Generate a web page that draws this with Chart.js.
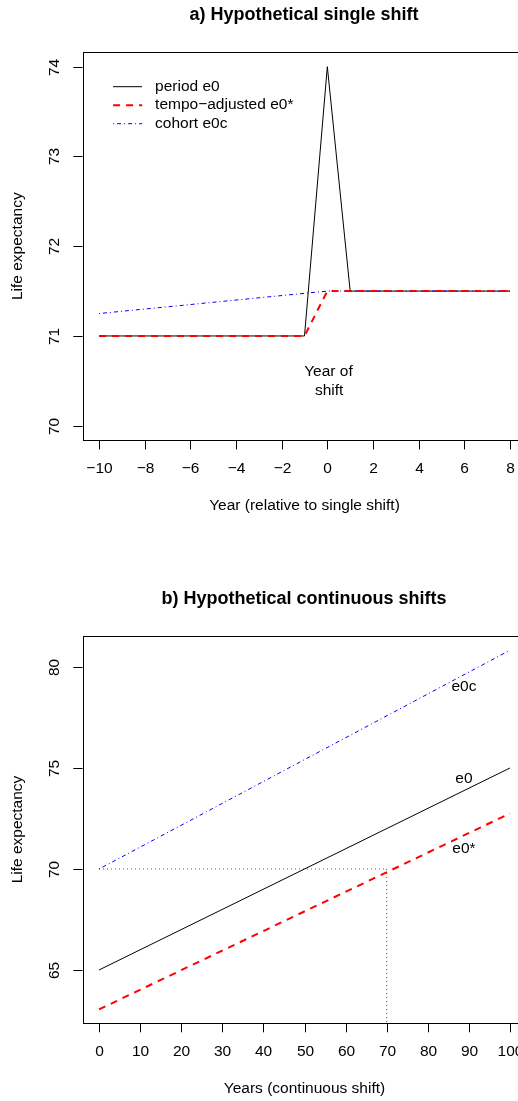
<!DOCTYPE html>
<html>
<head>
<meta charset="utf-8">
<script src="https://cdn.jsdelivr.net/npm/chart.js@4/dist/chart.umd.min.js"></script>
<style>
  html, body { margin: 0; padding: 0; background: #fff; overflow: hidden; width: 518px; height: 1101px; }
  canvas { position: absolute; left: 0; }
  #ca { top: 0; }
  #cb { top: 550px; }
</style>
</head>
<body>
<canvas id="ca" width="560" height="550"></canvas>
<canvas id="cb" width="560" height="551"></canvas>
<script>
// ---------- Panel a: hypothetical single shift ----------
const yearsA      = [-10, -9, -8, -7, -6, -5, -4, -3, -2, -1, 0, 1, 2, 3, 4, 5, 6, 7, 8];
const periodE0A   = [71, 71, 71, 71, 71, 71, 71, 71, 71, 71, 74, 71.5, 71.5, 71.5, 71.5, 71.5, 71.5, 71.5, 71.5];
const tempoE0A    = [71, 71, 71, 71, 71, 71, 71, 71, 71, 71, 71.5, 71.5, 71.5, 71.5, 71.5, 71.5, 71.5, 71.5, 71.5];
const cohortYearsA = [-10, 0, 8];
const cohortE0A    = [71.25, 71.5, 71.5];
const xTicksA      = [-10, -8, -6, -4, -2, 0, 2, 4, 6, 8];
const xTickLabelsA = ['\u221210', '\u22128', '\u22126', '\u22124', '\u22122', '0', '2', '4', '6', '8'];
const yTicksA      = [70, 71, 72, 73, 74];
const yTickLabelsA = ['70', '71', '72', '73', '74'];
const legendLabelsA = ['period e0', 'tempo\u2212adjusted e0*', 'cohort e0c'];

// ---------- Panel b: hypothetical continuous shifts ----------
const yearsB      = [0, 100];
const periodE0B   = [65, 75];
const tempoE0B    = [63.05, 72.75];
const cohortE0B   = [70, 80.83];
const guideH      = { x: [0, 70], y: [70, 70] };
const guideV      = { x: [70, 70], y: [70, 62.38] };
const xTicksB      = [0, 10, 20, 30, 40, 50, 60, 70, 80, 90, 100];
const xTickLabelsB = ['0', '10', '20', '30', '40', '50', '60', '70', '80', '90', '100'];
const yTicksB      = [65, 70, 75, 80];
const yTickLabelsB = ['65', '70', '75', '80'];

const FONT = '"Liberation Sans", Arial, Helvetica, sans-serif';
const BASE = 15.5;

function pts(xs, ys) { return xs.map((x, i) => ({ x: x, y: ys[i] })); }

const rAxes = {
  id: 'rAxes',
  afterDraw(chart, args, o) {
    const ctx = chart.ctx, a = chart.chartArea, xs = chart.scales.x, ys = chart.scales.y;
    ctx.save();
    ctx.strokeStyle = '#000';
    ctx.fillStyle = '#000';
    ctx.lineWidth = 1;
    ctx.setLineDash([]);
    // box
    ctx.strokeRect(Math.round(a.left) + 0.5, Math.round(a.top) + 0.5,
                   Math.round(a.right - a.left), Math.round(a.bottom - a.top));
    // x ticks
    ctx.font = BASE + 'px ' + FONT;
    ctx.textAlign = 'center';
    ctx.textBaseline = 'middle';
    o.xTicks.forEach((v, i) => {
      const px = Math.round(xs.getPixelForValue(v)) + 0.5;
      ctx.beginPath();
      ctx.moveTo(px, a.bottom);
      ctx.lineTo(px, a.bottom + 9.3);
      ctx.stroke();
      ctx.fillText(o.xLabels[i], px, a.bottom + 29);
    });
    // y ticks (labels parallel to axis)
    o.yTicks.forEach((v, i) => {
      const py = Math.round(ys.getPixelForValue(v)) + 0.5;
      ctx.beginPath();
      ctx.moveTo(a.left - 9.3, py);
      ctx.lineTo(a.left, py);
      ctx.stroke();
      ctx.save();
      ctx.translate(a.left - 27.5, py);
      ctx.rotate(-Math.PI / 2);
      ctx.fillText(o.yLabels[i], 0, 0);
      ctx.restore();
    });
    // axis titles
    ctx.fillText(o.xTitle, (a.left + a.right) / 2, a.bottom + 66);
    ctx.save();
    ctx.translate(a.left - 64.5, (a.top + a.bottom) / 2);
    ctx.rotate(-Math.PI / 2);
    ctx.fillText(o.yTitle, 0, 0);
    ctx.restore();
    // main title
    ctx.font = 'bold 18px ' + FONT;
    ctx.fillText(o.title, (a.left + a.right) / 2 - 0.5, a.top - 37);
    // text annotations
    ctx.font = BASE + 'px ' + FONT;
    (o.notes || []).forEach(n => {
      ctx.fillText(n.text, xs.getPixelForValue(n.x), ys.getPixelForValue(n.y));
    });
    // legend
    if (o.legend) {
      const L = o.legend;
      ctx.textAlign = 'left';
      chart.data.datasets.forEach((ds, i) => {
        if (ds.inLegend === false) return;
        const idx = ds.legendIndex;
        const y = a.top + L.top + idx * L.row;
        ctx.save();
        ctx.strokeStyle = ds.borderColor;
        ctx.lineWidth = ds.borderWidth;
        ctx.setLineDash(ds.borderDash || []);
        ctx.beginPath();
        ctx.moveTo(a.left + L.x0, y);
        ctx.lineTo(a.left + L.x1, y);
        ctx.stroke();
        ctx.restore();
        ctx.fillText(ds.label, a.left + L.tx, y);
      });
    }
    ctx.restore();
  }
};

function baseOptions(xmin, xmax, ymin, ymax, padding, axes) {
  return {
    responsive: false,
    animation: false,
    devicePixelRatio: window.devicePixelRatio || 1,
    layout: { padding: padding },
    elements: { point: { radius: 0, hoverRadius: 0 }, line: { tension: 0 } },
    scales: {
      x: { type: 'linear', min: xmin, max: xmax, display: false },
      y: { type: 'linear', min: ymin, max: ymax, display: false }
    },
    plugins: { legend: { display: false }, tooltip: { enabled: false }, rAxes: axes },
    events: []
  };
}

// Panel a chart
new Chart(document.getElementById('ca'), {
  type: 'line',
  data: {
    datasets: [
      { label: legendLabelsA[1], legendIndex: 1, data: pts(yearsA, tempoE0A), borderColor: '#FF0000', borderWidth: 2, borderDash: [7, 6], fill: false, order: 0 },
      { label: legendLabelsA[2], legendIndex: 2, data: pts(cohortYearsA, cohortE0A), borderColor: '#0000FF', borderWidth: 1, borderDash: [1, 3, 4, 3], fill: false, order: 1 },
      { label: legendLabelsA[0], legendIndex: 0, data: pts(yearsA, periodE0A), borderColor: '#000000', borderWidth: 1, fill: false, order: 2 }
    ]
  },
  options: baseOptions(-10.72, 8.72, 69.84, 74.16,
    { left: 82.6, top: 52.3, right: 560 - 526.4, bottom: 550 - 440.1 },
    {
      xTicks: xTicksA, xLabels: xTickLabelsA, yTicks: yTicksA, yLabels: yTickLabelsA,
      xTitle: 'Year (relative to single shift)', yTitle: 'Life expectancy',
      title: 'a) Hypothetical single shift',
      notes: [ { text: 'Year of', x: 0.05, y: 70.6 }, { text: 'shift', x: 0.08, y: 70.39 } ],
      legend: { x0: 30.5, x1: 59.5, tx: 72.5, top: 34.4, row: 18.5 }
    }),
  plugins: [rAxes]
});

// Panel b chart
new Chart(document.getElementById('cb'), {
  type: 'line',
  data: {
    datasets: [
      { label: 'e0*', inLegend: false, data: pts(yearsB, tempoE0B), borderColor: '#FF0000', borderWidth: 2, borderDash: [7, 6], fill: false, order: 0 },
      { label: 'e0c', inLegend: false, data: pts(yearsB, cohortE0B), borderColor: '#0000FF', borderWidth: 1, borderDash: [1, 3, 4, 3], fill: false, order: 1 },
      { label: 'e0', inLegend: false, data: pts(yearsB, periodE0B), borderColor: '#000000', borderWidth: 1, fill: false, order: 2 },
      { label: 'guide h', inLegend: false, data: pts(guideH.x, guideH.y), borderColor: '#555555', borderWidth: 1, borderDash: [1, 3], fill: false, order: 3 },
      { label: 'guide v', inLegend: false, data: pts(guideV.x, guideV.y), borderColor: '#555555', borderWidth: 1, borderDash: [1, 3], fill: false, order: 4 }
    ]
  },
  options: baseOptions(-4, 104, 62.376, 81.535,
    { left: 82.6, top: 86, right: 560 - 526.4, bottom: 551 - 473 },
    {
      xTicks: xTicksB, xLabels: xTickLabelsB, yTicks: yTicksB, yLabels: yTickLabelsB,
      xTitle: 'Years (continuous shift)', yTitle: 'Life expectancy',
      title: 'b) Hypothetical continuous shifts',
      notes: [ { text: 'e0c', x: 88.8, y: 79.0 }, { text: 'e0', x: 88.8, y: 74.48 }, { text: 'e0*', x: 88.8, y: 70.99 } ]
    }),
  plugins: [rAxes]
});
</script>
</body>
</html>
